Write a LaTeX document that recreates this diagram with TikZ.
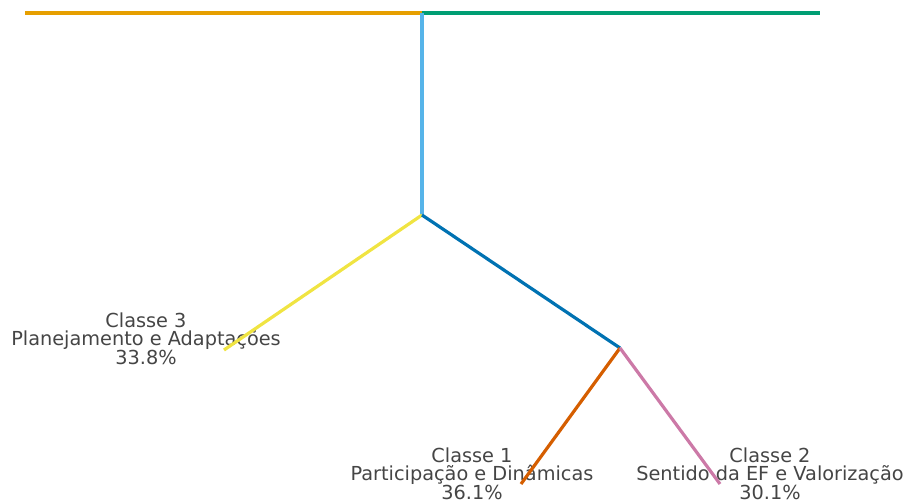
\documentclass[tikz,border=0pt]{standalone}
\usepackage{fontspec}
\setmainfont{DejaVu Sans}
\usetikzlibrary{positioning}
\definecolor{cOrange}{HTML}{E69F00}
\definecolor{cGreen}{HTML}{009E73}
\definecolor{cSky}{HTML}{56B4E9}
\definecolor{cYellow}{HTML}{F0E442}
\definecolor{cBlue}{HTML}{0072B2}
\definecolor{cVermillion}{HTML}{D55E00}
\definecolor{cPink}{HTML}{CC79A7}
\definecolor{textgray}{HTML}{454545}
\tikzset{
  branch/.style={line width=3.2pt},
  leaf/.style={align=center,text=textgray,inner sep=0pt,font=\fontsize{19.3}{18}\selectfont}
}

\begin{document}
\begin{tikzpicture}[x=1pt,y=-1pt]
      \useasboundingbox (0,0) rectangle (908,499);
      % junctions of the tree
      \coordinate (left) at (25,13);
      \coordinate (top) at (422,13);
      \coordinate (right) at (820,13);
      \coordinate (root) at (422,215);
      \coordinate (j12) at (620,348);
      \coordinate (end3) at (224,350);
      \coordinate (end1) at (521,484);
      \coordinate (end2) at (720,484);
      % class labels
      \node[leaf] (c3) at (146,339) {Classe 3\\Planejamento e Adaptações\\33.8\%};
      \node[leaf] (c1) at (472,474) {Classe 1\\Participação e Dinâmicas\\36.1\%};
      \node[leaf] (c2) at (770,474) {Classe 2\\Sentido da EF e Valorização\\30.1\%};
      \begin{scope}
        \draw[branch,cOrange] (left) -- (top);
        \draw[branch,cGreen] (top) -- (right);
        \draw[branch,cSky] (top) -- (root);
        \draw[branch,cYellow] (root) -- (end3);
        \draw[branch,cBlue] (root) -- (j12);
        \draw[branch,cVermillion] (j12) -- (end1);
        \draw[branch,cPink] (j12) -- (end2);
      \end{scope}
    \end{tikzpicture}
\end{document}
